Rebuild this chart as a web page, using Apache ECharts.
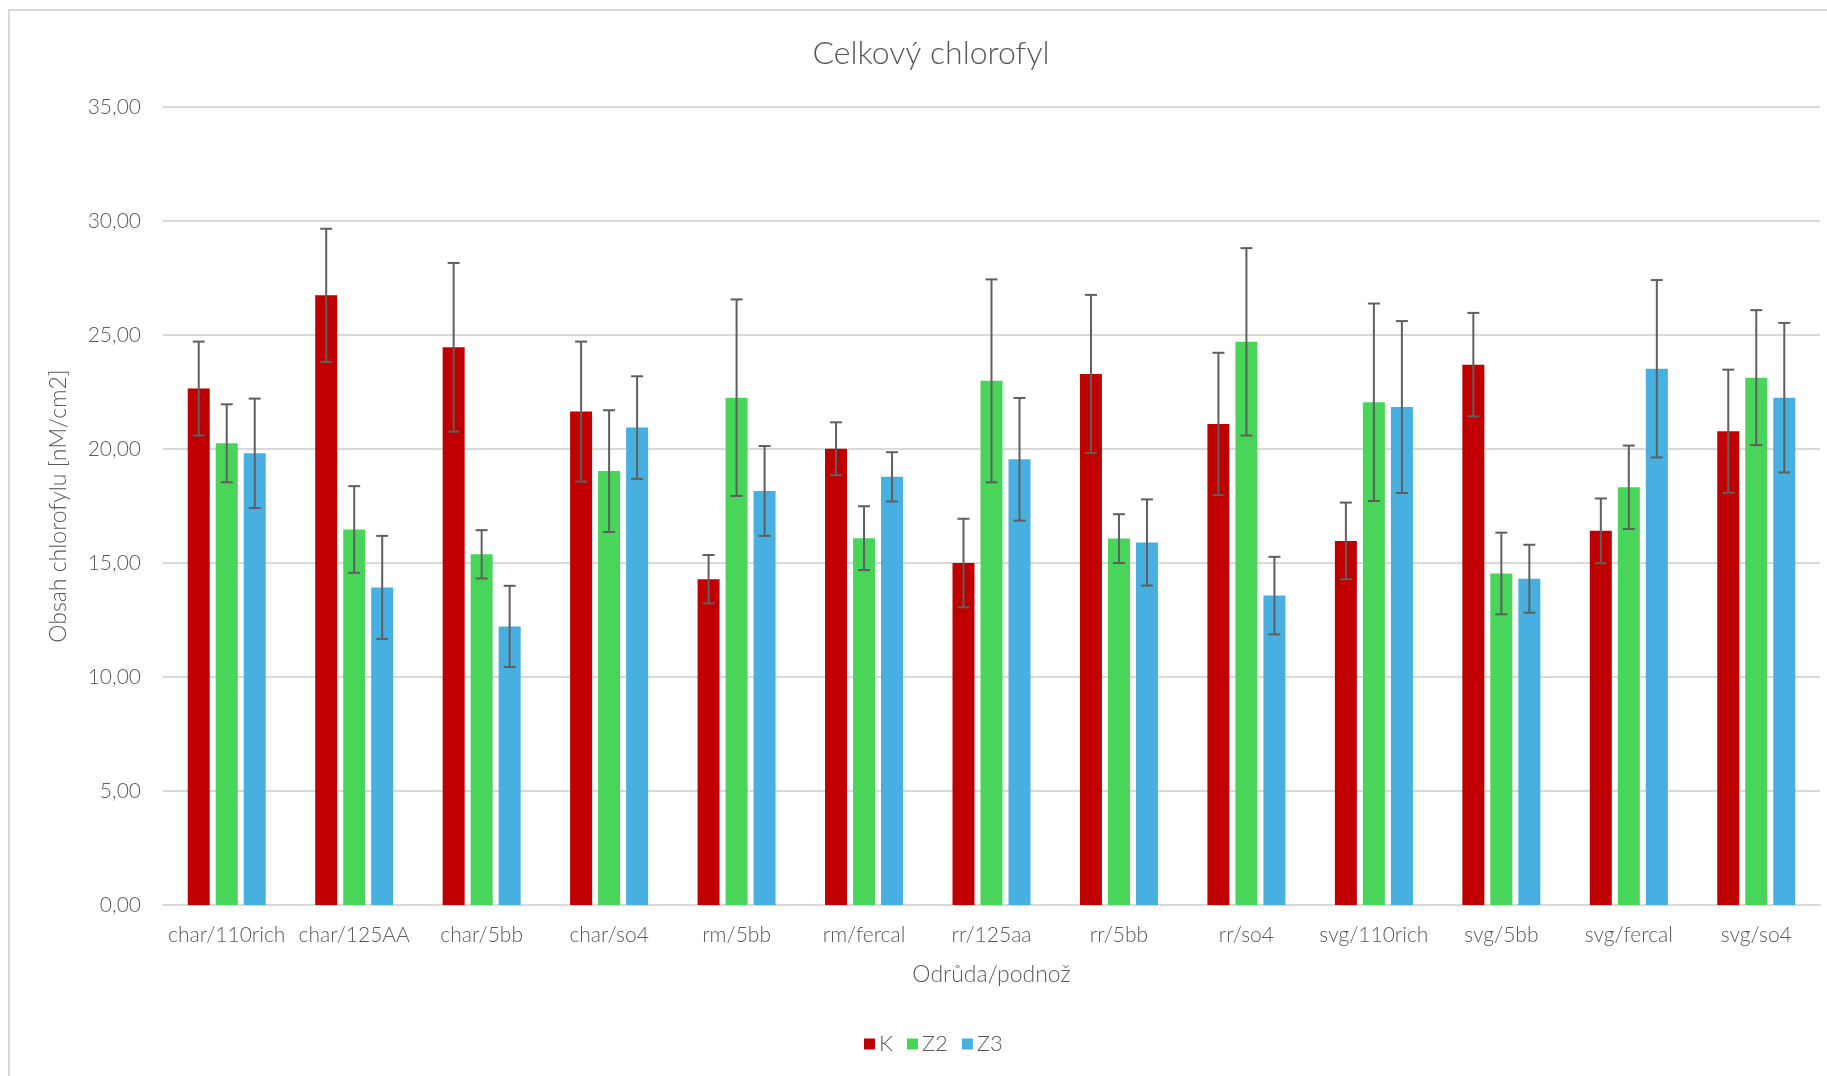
<!DOCTYPE html>
<html>
<head>
<meta charset="utf-8">
<script src="https://cdn.jsdelivr.net/npm/echarts@6/dist/echarts.min.js"></script>
<style>
html,body{margin:0;padding:0;background:#fff;}
#chart{width:1827px;height:1076px;}
</style>
</head>
<body>
<div id="chart"></div>
<script>
const categories = ['char/110rich','char/125AA','char/5bb','char/so4','rm/5bb','rm/fercal','rr/125aa','rr/5bb','rr/so4','svg/110rich','svg/5bb','svg/fercal','svg/so4'];
const seriesNames = ['K','Z2','Z3'];
const valuesK  = [22.65, 26.74, 24.46, 21.64, 14.29, 20.01, 15.00, 23.29, 21.10, 15.97, 23.70, 16.41, 20.78];
const valuesZ2 = [20.25, 16.47, 15.38, 19.03, 22.25, 16.09, 22.99, 16.07, 24.70, 22.05, 14.54, 18.32, 23.13];
const valuesZ3 = [19.81, 13.93, 12.22, 20.94, 18.16, 18.78, 19.55, 15.90, 13.57, 21.84, 14.31, 23.52, 22.25];
const errorsK  = [2.06, 2.92, 3.70, 3.07, 1.06, 1.16, 1.94, 3.47, 3.12, 1.68, 2.27, 1.42, 2.70];
const errorsZ2 = [1.71, 1.90, 1.06, 2.67, 4.31, 1.40, 4.45, 1.07, 4.11, 4.33, 1.79, 1.83, 2.96];
const errorsZ3 = [2.40, 2.26, 1.78, 2.25, 1.97, 1.08, 2.69, 1.89, 1.70, 3.77, 1.49, 3.89, 3.28];
const yTicks = [0, 5, 10, 15, 20, 25, 30, 35];

const colors = ['#c00000', '#48d55a', '#47b0e0'];
const BAR_W = 22, GAP = 6, SPACING = BAR_W + GAP;
const FONT = 'Lato, "Open Sans", sans-serif';
const TXT = '#595959';

const allValues = [valuesK, valuesZ2, valuesZ3];
const allErrors = [errorsK, errorsZ2, errorsZ3];

const barSeries = seriesNames.map((n, s) => ({
  name: n, type: 'bar', data: allValues[s],
  barWidth: BAR_W, barGap: (GAP / BAR_W * 100).toFixed(1) + '%',
  itemStyle: { color: colors[s] }, z: 2
}));

const errSeries = seriesNames.map((n, s) => ({
  name: n + '_err', type: 'custom', z: 5,
  data: categories.map((c, i) => [i, allValues[s][i] - allErrors[s][i], allValues[s][i] + allErrors[s][i]]),
  renderItem: function (params, api) {
    const x = api.value(0);
    const lo = api.coord([x, api.value(1)]);
    const hi = api.coord([x, api.value(2)]);
    const cx = lo[0] + (s - 1) * SPACING;
    const hw = 6;
    const st = { stroke: '#5f5f5f', lineWidth: 2 };
    return { type: 'group', children: [
      { type: 'line', shape: { x1: cx, y1: lo[1], x2: cx, y2: hi[1] }, style: st },
      { type: 'line', shape: { x1: cx - hw, y1: lo[1], x2: cx + hw, y2: lo[1] }, style: st },
      { type: 'line', shape: { x1: cx - hw, y1: hi[1], x2: cx + hw, y2: hi[1] }, style: st }
    ]};
  },
  silent: true
}));

const chart = echarts.init(document.getElementById('chart'));
chart.setOption({
  animation: false,
  backgroundColor: '#fff',
  textStyle: { fontFamily: FONT, fontWeight: 300 },
  graphic: [{ type: 'rect', shape: { x: 9, y: 10, width: 1840, height: 1100 }, style: { fill: 'none', stroke: '#d9d9d9', lineWidth: 2 }, silent: true, z: -1 }],
  title: {
    text: 'Celkový chlorofyl', left: 926, top: 33, textAlign: 'center',
    textStyle: { fontFamily: FONT, fontWeight: 300, fontSize: 32, color: TXT }
  },
  legend: {
    data: seriesNames, left: 859, top: 1028, icon: 'rect', itemWidth: 11, itemHeight: 11, itemGap: 14,
    textStyle: { fontFamily: FONT, fontWeight: 300, fontSize: 22, color: TXT, padding: [0, 0, 0, -1] }
  },
  grid: { left: 163, right: 7, top: 107, bottom: 171, containLabel: false },
  xAxis: {
    type: 'category', data: categories,
    name: 'Odrůda/podnož', nameLocation: 'middle', nameGap: 58,
    nameTextStyle: { fontFamily: FONT, fontWeight: 300, fontSize: 23, color: TXT },
    axisLine: { lineStyle: { color: '#d9d9d9', width: 2 } },
    axisTick: { show: false },
    axisLabel: { interval: 0, margin: 20, fontFamily: FONT, fontWeight: 300, fontSize: 21, color: TXT }
  },
  yAxis: {
    type: 'value', min: yTicks[0], max: yTicks[yTicks.length - 1], interval: 5,
    name: 'Obsah chlorofylu [nM/cm2]', nameLocation: 'middle', nameGap: 93,
    nameTextStyle: { fontFamily: FONT, fontWeight: 300, fontSize: 23, color: TXT },
    axisLine: { show: false }, axisTick: { show: false },
    splitLine: { lineStyle: { color: '#d9d9d9', width: 2 } },
    axisLabel: { margin: 22, fontFamily: FONT, fontWeight: 300, fontSize: 21, color: TXT,
      formatter: v => v.toFixed(2).replace('.', ',') }
  },
  series: barSeries.concat(errSeries)
});
</script>
</body>
</html>
